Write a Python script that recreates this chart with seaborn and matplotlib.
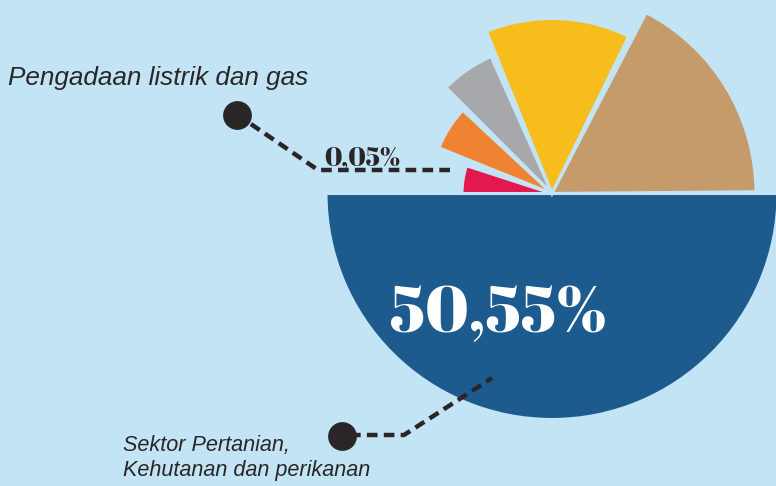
import numpy as np
import matplotlib
matplotlib.use('Agg')
import matplotlib.pyplot as plt
import seaborn as sns

sns.set_style('white')

# wedges as drawn: start angle (deg, counterclockwise from east), span (deg), radius (px)
sectors = ['pertanian', 'listrik_gas', 'oranye', 'abu', 'kuning', 'coklat']
starts = [180, 162, 137, 114, 64, 0.5]
spans = [180, 18, 21, 21, 48, 62]
radii = [226, 90, 122, 150, 175, 204]
colors = ['#1d5b8f', '#e3184f', '#ef8331', '#a6a8ab', '#f6bd1c', '#c59b6b']

label_small = '0,05%'
label_big = '50,55%'
name_top = 'Pengadaan listrik dan gas'
name_bottom = ['Sektor Pertanian,', 'Kehutanan dan perikanan']

bg = '#c2e4f5'
ink = '#2a2627'
W, H = 776, 486
cx, cy = 552, 193.5
rmax = 230

fig = plt.figure(figsize=(W / 100, H / 100), dpi=100)
fig.patch.set_facecolor(bg)

ax = fig.add_axes([(cx - rmax) / W, (H - cy - rmax) / H, 2 * rmax / W, 2 * rmax / H],
                  projection='polar')
ax.set_facecolor('none')
theta = np.deg2rad(np.array(starts))
ax.bar(theta, radii, width=np.deg2rad(spans), bottom=0, align='edge',
       color=colors, edgecolor=bg, linewidth=2.2)
ax.set_ylim(0, rmax)
ax.set_axis_off()

# overlay in pixel coordinates for labels and leader lines
ov = fig.add_axes([0, 0, 1, 1])
ov.set_xlim(0, W)
ov.set_ylim(H, 0)
ov.set_axis_off()
ov.patch.set_alpha(0)

dash = dict(color=ink, lw=3.2, ls=(0, (2.4, 1.4)), solid_capstyle='butt')
ov.plot([450, 318, 245], [170, 170, 120], **dash)
ov.plot([350, 404, 492], [435, 435, 378], **dash)
ov.scatter([237, 342], [115, 436], s=430, color=ink, zorder=5, linewidths=0)

ov.text(8, 85, name_top, fontsize=18.8, style='italic', family='Liberation Sans',
        color=ink, ha='left', va='baseline')
for i, line in enumerate(name_bottom):
    ov.text(123, 451 + 25 * i, line, fontsize=15.6, style='italic', family='Liberation Sans',
            color=ink, ha='left', va='baseline')

ov.text(362, 165, label_small, fontsize=19, family='Abril Fatface',
        color=ink, ha='center', va='baseline')
ov.text(498, 332, label_big, fontsize=47, family='Abril Fatface',
        color='white', ha='center', va='baseline')

fig.savefig('out.png', dpi=100, facecolor=bg)
